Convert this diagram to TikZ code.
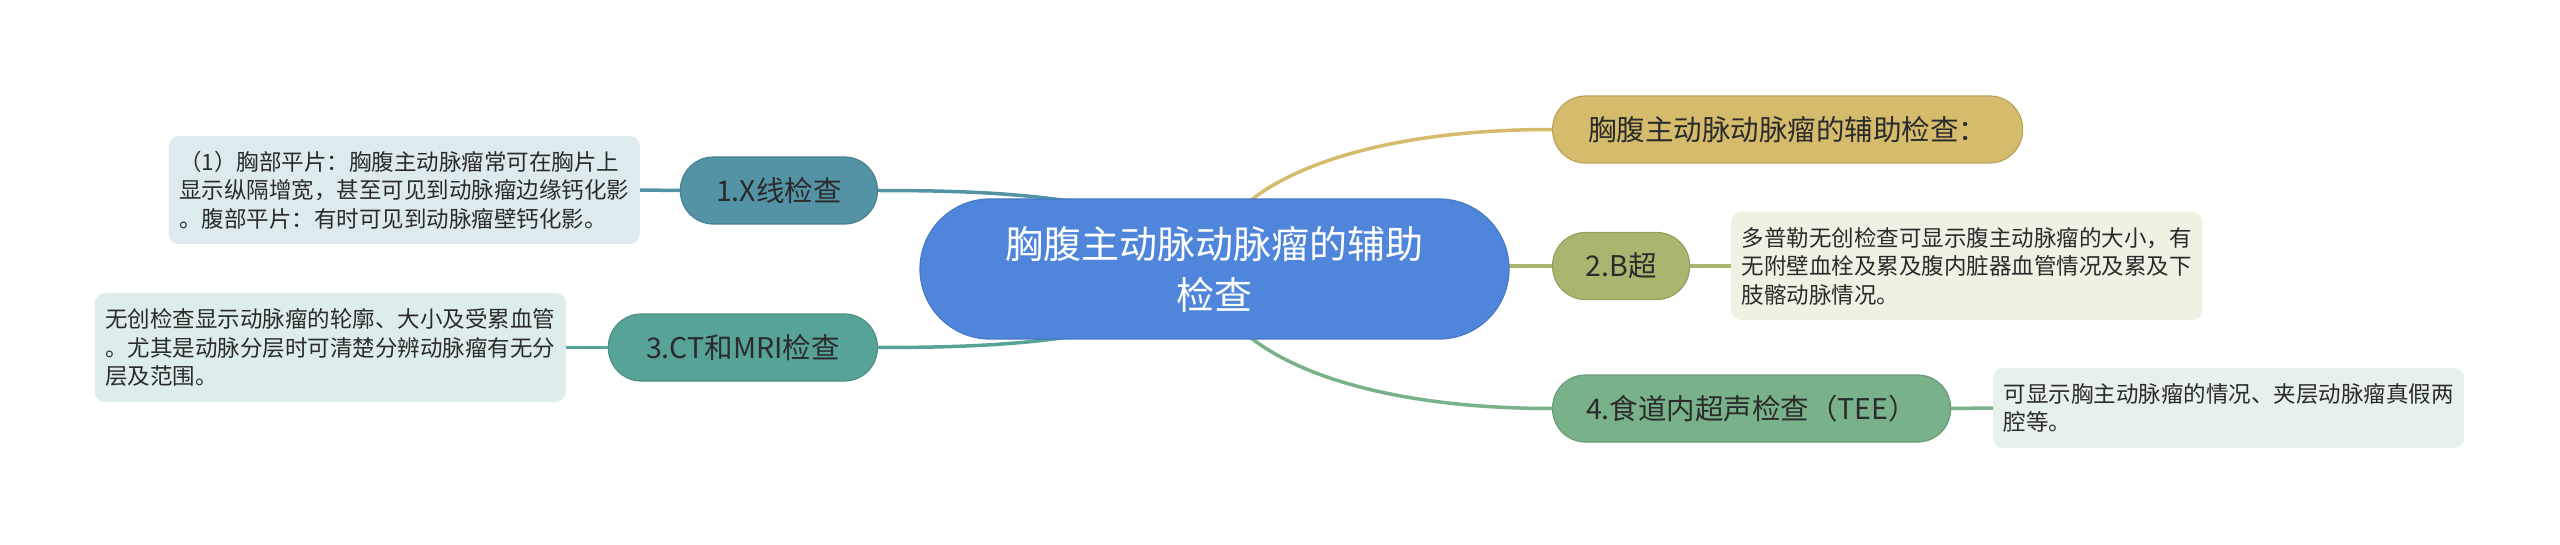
\documentclass[tikz,border=0pt]{standalone}
\usepackage{fontspec}
\setmainfont{Noto Sans CJK SC}
\definecolor{cMain}{HTML}{4F86DB}
\definecolor{cGold}{HTML}{D5BB6C}
\definecolor{cOlive}{HTML}{ABB56F}
\definecolor{cTeal}{HTML}{5393A5}
\definecolor{cTealG}{HTML}{57A397}
\definecolor{cGreen}{HTML}{79B28A}
\definecolor{dTeal}{HTML}{DDEBEF}
\definecolor{dTealG}{HTML}{DDEDEB}
\definecolor{dOlive}{HTML}{F1F1E3}
\definecolor{dGreen}{HTML}{E5F1EA}
\definecolor{txt}{HTML}{2B2B2B}
\begin{document}
\begin{tikzpicture}[x=1pt,y=-1pt,
  pill/.style={rounded corners=33pt, minimum height=67pt, inner sep=0pt,
    text=txt, font=\fontsize{28.5}{34}\selectfont, draw=#1!88!black, fill=#1, line width=1.2pt},
  detail/.style={rounded corners=10pt, fill=#1, inner xsep=10.5pt, inner ysep=0pt,
    text width=450pt, align=left, text=txt, font=\fontsize{22.5}{28.5}\selectfont},
  conn/.style={line width=3.5pt, draw=#1}
]
\useasboundingbox (0,0) rectangle (2560,545);
\fill[white] (0,0) rectangle (2560,545);

% nodes
\node[pill=cGold, minimum width=470pt, anchor=west] (gold) at (1552,129.5) {胸腹主动脉动脉瘤的辅助检查：};
\node[pill=cOlive, minimum width=137pt, anchor=west] (b) at (1552,266) {2.B超};
\node[pill=cGreen, minimum width=398pt, anchor=west] (tee) at (1552,408.5) {4.食道内超声检查（TEE）};
\node[pill=cTeal, minimum width=197pt, anchor=east] (xr) at (878,190.5) {1.X线检查};
\node[pill=cTealG, minimum width=269pt, anchor=east] (ct) at (878,347.5) {3.CT和MRI检查};

\node[detail=dTeal, minimum height=108pt, anchor=east] (xrd) at (640,190) {（1）胸部平片：胸腹主动脉瘤常可在胸片上\\显示纵隔增宽，甚至可见到动脉瘤边缘钙化影\\。腹部平片：有时可见到动脉瘤壁钙化影。};
\node[detail=dTealG, minimum height=109pt, anchor=east] (ctd) at (566,347.5) {无创检查显示动脉瘤的轮廓、大小及受累血管\\。尤其是动脉分层时可清楚分辨动脉瘤有无分\\层及范围。};
\node[detail=dOlive, minimum height=108pt, anchor=west] (bd) at (1731,266) {多普勒无创检查可显示腹主动脉瘤的大小，有\\无附壁血栓及累及腹内脏器血管情况及累及下\\肢髂动脉情况。};
\node[detail=dGreen, minimum height=80pt, anchor=west] (teed) at (1993,408) {可显示胸主动脉瘤的情况、夹层动脉瘤真假两\\腔等。};

% connectors (behind center node)
\coordinate (cg) at (1222,232);
\coordinate (ctee) at (1222,306);
\coordinate (cx) at (1200,232);
\coordinate (cc) at (1200,306);
\draw[conn=cGold] (cg) .. controls (1252,180) and (1360,129.5) .. (gold.west);
\draw[conn=cGreen] (ctee) .. controls (1252,358) and (1360,408.5) .. (tee.west);
\draw[conn=cTeal] (xr.east) .. controls (1000,190.5) and (1090,196) .. (cx);
\draw[conn=cTealG] (ct.east) .. controls (1000,347.5) and (1090,342) .. (cc);
\draw[conn=cOlive] (1400,266) -- (b.west);

\draw[conn=cTeal] (xr.west) -- (xrd.east);
\draw[conn=cTealG] (ct.west) -- (ctd.east);
\draw[conn=cOlive] (b.east) -- (bd.west);
\draw[conn=cGreen] (tee.east) -- (teed.west);

% center
\node[rounded corners=70pt, fill=cMain, draw=cMain!90!black, line width=1.2pt,
  minimum width=589pt, minimum height=140pt, inner sep=0pt, text=white, align=center,
  font=\fontsize{38}{51}\selectfont] (center) at (1214.5,269) {胸腹主动脉动脉瘤的辅助\\检查};
\end{tikzpicture}
\end{document}
